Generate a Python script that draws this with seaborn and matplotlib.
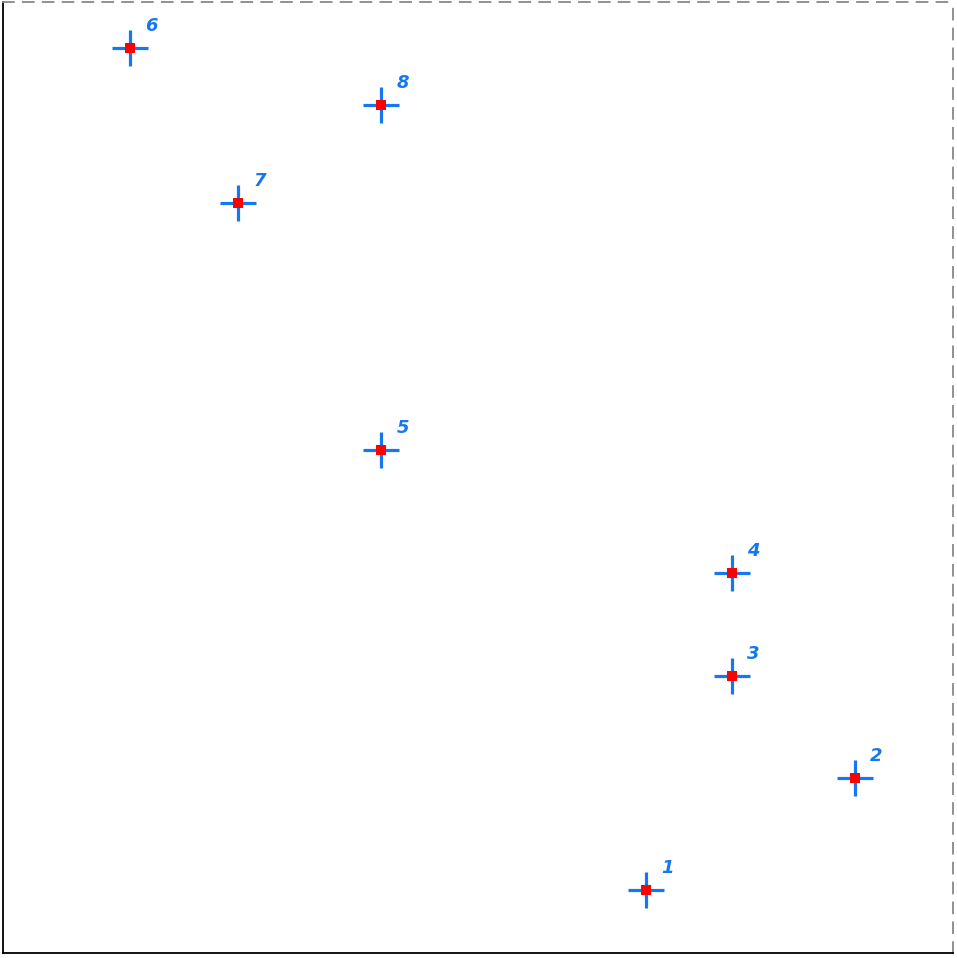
import numpy as np
import pandas as pd
import matplotlib
matplotlib.use("Agg")
import matplotlib.pyplot as plt
import seaborn as sns

# point ids and positions (box units, 0..950)
labels = ["1", "2", "3", "4", "5", "6", "7", "8"]
x_vals = [643, 852, 729, 729, 378, 127, 235, 378]
y_vals = [63, 175, 277, 380, 503, 905, 750, 848]

df = pd.DataFrame({"x": x_vals, "y": y_vals, "label": labels})

sns.set_style("white")
fig = plt.figure(figsize=(9.57, 9.58), dpi=100)
ax = fig.add_axes([3 / 957, 5 / 958, 950 / 957, 951 / 958])

blue = "#1677f2"
sns.scatterplot(data=df, x="x", y="y", marker="+", s=680, color=blue,
                linewidth=2.3, ax=ax, zorder=2)
sns.scatterplot(data=df, x="x", y="y", marker="s", s=42, color="red",
                linewidth=0, ax=ax, zorder=3)

for _, r in df.iterrows():
    ax.annotate(r["label"], (r["x"], r["y"]), xytext=(11, 12),
                textcoords="offset points", color=blue, fontsize=13,
                fontweight="bold", fontstyle="italic")

ax.set_xlim(0, 950)
ax.set_ylim(0, 951)
ax.set_xticks([])
ax.set_yticks([])
ax.set_xlabel("")
ax.set_ylabel("")

for side in ["left", "bottom"]:
    ax.spines[side].set_color("black")
    ax.spines[side].set_linewidth(1.3)
for side in ["top", "right"]:
    ax.spines[side].set_color("#888888")
    ax.spines[side].set_linewidth(1.3)
    ax.spines[side].set_linestyle((0, (6, 5)))

fig.savefig("out.png", dpi=100)
